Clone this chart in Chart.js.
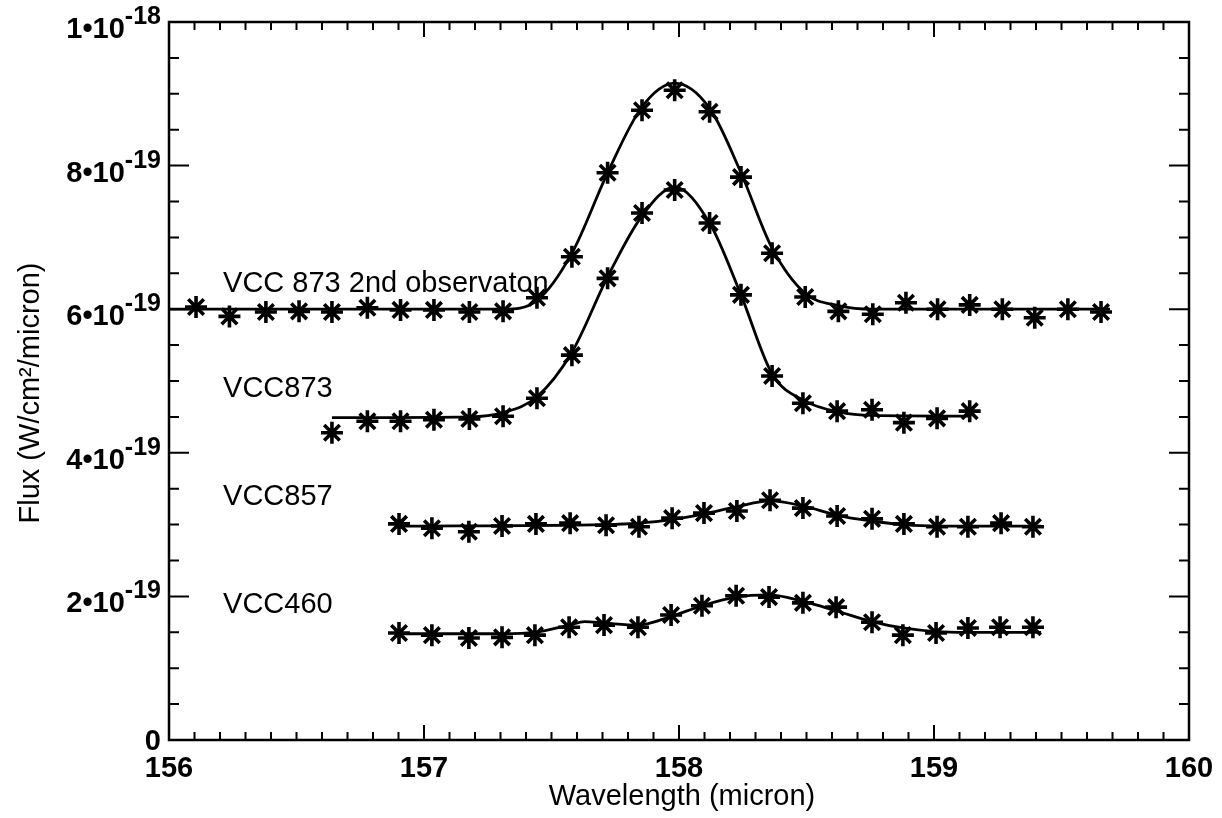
<!DOCTYPE html>
<html>
<head>
<meta charset="utf-8">
<script src="https://cdn.jsdelivr.net/npm/chart.js@4.4.0/dist/chart.umd.min.js"></script>
<style>
  html, body { margin: 0; background: #fff; }
  #wrap { width: 1222px; height: 818px; }
</style>
</head>
<body>
<div id="wrap"><canvas id="chart"></canvas></div>
<script>
// flux values are in units of 1e-19 W/cm2/micron

// VCC 873 2nd observation - measured points
const obs2Wave = [156.106, 156.237, 156.380, 156.510, 156.639, 156.778, 156.908, 157.039, 157.178, 157.310,
  157.443, 157.580, 157.720, 157.855, 157.983, 158.120, 158.243, 158.365, 158.495, 158.625,
  158.760, 158.890, 159.014, 159.140, 159.268, 159.395, 159.525, 159.655];
const obs2Flux = [6.03, 5.90, 5.96, 5.97, 5.96, 6.02, 5.99, 5.99, 5.96, 5.97,
  6.16, 6.73, 7.90, 8.77, 9.05, 8.75, 7.84, 6.78, 6.17, 5.97,
  5.93, 6.09, 6.00, 6.06, 6.00, 5.88, 6.00, 5.96];
// fitted curve
const obs2FitWave = [156.0, 157.31, 157.443, 157.58, 157.72, 157.855, 157.983, 158.12, 158.243, 158.365, 158.495, 158.625, 158.76, 159.69];
const obs2FitFlux = [6.0, 6.0, 6.12, 6.78, 7.9, 8.82, 9.15, 8.8, 7.9, 6.85, 6.22, 6.05, 6.0, 6.0];

// VCC873
const vcc873Wave = [156.639, 156.778, 156.908, 157.039, 157.178, 157.310, 157.443, 157.580, 157.720, 157.855,
  157.983, 158.120, 158.243, 158.365, 158.486, 158.620, 158.757, 158.882, 159.012, 159.140];
const vcc873Flux = [4.28, 4.44, 4.44, 4.46, 4.47, 4.51, 4.76, 5.36, 6.43, 7.34,
  7.66, 7.20, 6.20, 5.07, 4.69, 4.58, 4.60, 4.42, 4.48, 4.58];
const vcc873FitWave = [156.639, 157.178, 157.31, 157.443, 157.58, 157.72, 157.855, 157.983, 158.12, 158.243, 158.365, 158.495, 158.625, 158.76, 159.14];
const vcc873FitFlux = [4.49, 4.5, 4.56, 4.78, 5.4, 6.45, 7.3, 7.70, 7.2, 6.2, 5.1, 4.72, 4.57, 4.52, 4.51];

// VCC857
const vcc857Wave = [156.902, 157.031, 157.176, 157.306, 157.439, 157.573, 157.714, 157.843, 157.973, 158.098,
  158.227, 158.357, 158.486, 158.620, 158.757, 158.882, 159.012, 159.133, 159.263, 159.388];
const vcc857Flux = [3.01, 2.95, 2.90, 2.98, 3.01, 3.02, 2.99, 2.97, 3.09, 3.16,
  3.19, 3.34, 3.23, 3.12, 3.08, 3.01, 2.97, 2.97, 3.02, 2.97];
const vcc857FitWave = [156.902, 157.71, 157.843, 157.973, 158.098, 158.227, 158.357, 158.486, 158.62, 158.757, 158.882, 159.012, 159.42];
const vcc857FitFlux = [2.98, 3.0, 3.02, 3.07, 3.15, 3.25, 3.33, 3.26, 3.13, 3.05, 3.0, 2.98, 2.98];

// VCC460
const vcc460Wave = [156.902, 157.031, 157.176, 157.306, 157.435, 157.569, 157.706, 157.839, 157.969, 158.090,
  158.224, 158.353, 158.486, 158.616, 158.757, 158.878, 159.008, 159.133, 159.259, 159.388];
const vcc460Flux = [1.49, 1.46, 1.42, 1.43, 1.46, 1.57, 1.60, 1.57, 1.74, 1.87,
  2.01, 1.99, 1.91, 1.85, 1.64, 1.46, 1.49, 1.56, 1.57, 1.57];
const vcc460FitWave = [156.902, 157.306, 157.435, 157.569, 157.63, 157.706, 157.839, 157.969, 158.09, 158.224, 158.353, 158.486, 158.616, 158.757, 158.878, 159.008, 159.133, 159.42];
const vcc460FitFlux = [1.48, 1.48, 1.5, 1.6, 1.65, 1.63, 1.6, 1.72, 1.87, 1.99, 2.02, 1.93, 1.8, 1.65, 1.56, 1.51, 1.5, 1.5];

// axis ticks
const xTickValues = [156, 157, 158, 159, 160];
const xTickLabels = ['156', '157', '158', '159', '160'];
const yTickValues = [0, 2, 4, 6, 8, 10];
const yTickMantissa = ['0', '2\u202210', '4\u202210', '6\u202210', '8\u202210', '1\u202210'];
const yTickExponent = ['', '-19', '-19', '-19', '-19', '-18'];

// curve labels
const curveLabels = ['VCC 873 2nd observaton', 'VCC873', 'VCC857', 'VCC460'];
const curveLabelWave = [156.212, 156.212, 156.212, 156.212];
const curveLabelFlux = [6.24, 4.78, 3.27, 1.77];

const FONT = '"Liberation Sans", Arial, Helvetica, sans-serif';

function toXY(xs, ys) {
  return xs.map((x, i) => ({ x: x, y: ys[i] }));
}

function fitSet(xs, ys) {
  return {
    data: toXY(xs, ys),
    showLine: true,
    borderColor: '#000',
    borderWidth: 2.8,
    pointRadius: 0,
    cubicInterpolationMode: 'monotone',
    fill: false
  };
}

function pointSet(xs, ys) {
  return {
    data: toXY(xs, ys),
    showLine: false,
    pointStyle: 'star',
    pointRadius: 11,
    pointBorderWidth: 3.6,
    pointBorderColor: '#000',
    pointBackgroundColor: '#000'
  };
}

// frame, inward ticks, tick labels, titles and curve labels
const axesPlugin = {
  id: 'axesPlugin',
  afterDraw(chart) {
    const ctx = chart.ctx;
    const a = chart.chartArea;
    const xs = chart.scales.x;
    const ys = chart.scales.y;
    ctx.save();
    ctx.strokeStyle = '#000';
    ctx.fillStyle = '#000';
    ctx.lineWidth = 2.5;
    ctx.strokeRect(a.left, a.top, a.right - a.left, a.bottom - a.top);

    ctx.lineWidth = 2;
    ctx.beginPath();
    // x ticks every 0.1 micron, major every 1
    for (let i = 0; i <= 40; i++) {
      const px = xs.getPixelForValue(156 + i * 0.1);
      const len = i % 10 === 0 ? 15 : 8;
      ctx.moveTo(px, a.bottom); ctx.lineTo(px, a.bottom - len);
      ctx.moveTo(px, a.top); ctx.lineTo(px, a.top + len);
    }
    // y ticks every 0.5, major every 2
    for (let i = 0; i <= 20; i++) {
      const py = ys.getPixelForValue(i * 0.5);
      const len = i % 4 === 0 ? 20 : 10;
      ctx.moveTo(a.left, py); ctx.lineTo(a.left + len, py);
      ctx.moveTo(a.right, py); ctx.lineTo(a.right - len, py);
    }
    ctx.stroke();

    // x tick labels
    ctx.font = 'bold 29px ' + FONT;
    ctx.textAlign = 'center';
    ctx.textBaseline = 'middle';
    xTickValues.forEach((v, i) => {
      ctx.fillText(xTickLabels[i], xs.getPixelForValue(v), a.bottom + 29);
    });

    // y tick labels with superscript exponent
    ctx.textAlign = 'left';
    ctx.textBaseline = 'alphabetic';
    const rightEdge = a.left - 8;
    yTickValues.forEach((v, i) => {
      const py = ys.getPixelForValue(v);
      ctx.font = 'bold 25px ' + FONT;
      const ew = yTickExponent[i] ? ctx.measureText(yTickExponent[i]).width : 0;
      ctx.font = 'bold 29px ' + FONT;
      const mw = ctx.measureText(yTickMantissa[i]).width;
      if (yTickExponent[i]) {
        ctx.fillText(yTickMantissa[i], rightEdge - ew - mw, py + 16);
        ctx.font = 'bold 25px ' + FONT;
        ctx.fillText(yTickExponent[i], rightEdge - ew, py + 2);
      } else {
        ctx.fillText(yTickMantissa[i], rightEdge - mw, py + 10);
      }
    });

    // axis titles
    ctx.font = '29px ' + FONT;
    ctx.textAlign = 'center';
    ctx.textBaseline = 'middle';
    ctx.fillText('Wavelength (micron)', (a.left + a.right) / 2 + 3, a.bottom + 57);
    ctx.save();
    ctx.translate(31, 393);
    ctx.rotate(-Math.PI / 2);
    ctx.fillText('Flux (W/cm\u00B2/micron)', 0, 0);
    ctx.restore();

    // curve labels
    ctx.font = '29px ' + FONT;
    ctx.textAlign = 'left';
    ctx.textBaseline = 'alphabetic';
    curveLabels.forEach((t, i) => {
      ctx.fillText(t, xs.getPixelForValue(curveLabelWave[i]), ys.getPixelForValue(curveLabelFlux[i]));
    });
    ctx.restore();
  }
};

new Chart(document.getElementById('chart'), {
  type: 'scatter',
  data: {
    datasets: [
      fitSet(obs2FitWave, obs2FitFlux),
      pointSet(obs2Wave, obs2Flux),
      fitSet(vcc873FitWave, vcc873FitFlux),
      pointSet(vcc873Wave, vcc873Flux),
      fitSet(vcc857FitWave, vcc857FitFlux),
      pointSet(vcc857Wave, vcc857Flux),
      fitSet(vcc460FitWave, vcc460FitFlux),
      pointSet(vcc460Wave, vcc460Flux)
    ]
  },
  options: {
    responsive: true,
    maintainAspectRatio: false,
    animation: false,
    layout: { padding: { left: 169, right: 33, top: 22, bottom: 78 } },
    plugins: { legend: { display: false }, tooltip: { enabled: false } },
    scales: {
      x: { type: 'linear', min: 156, max: 160, display: false },
      y: { type: 'linear', min: 0, max: 10, display: false }
    }
  },
  plugins: [axesPlugin]
});
</script>
</body>
</html>
